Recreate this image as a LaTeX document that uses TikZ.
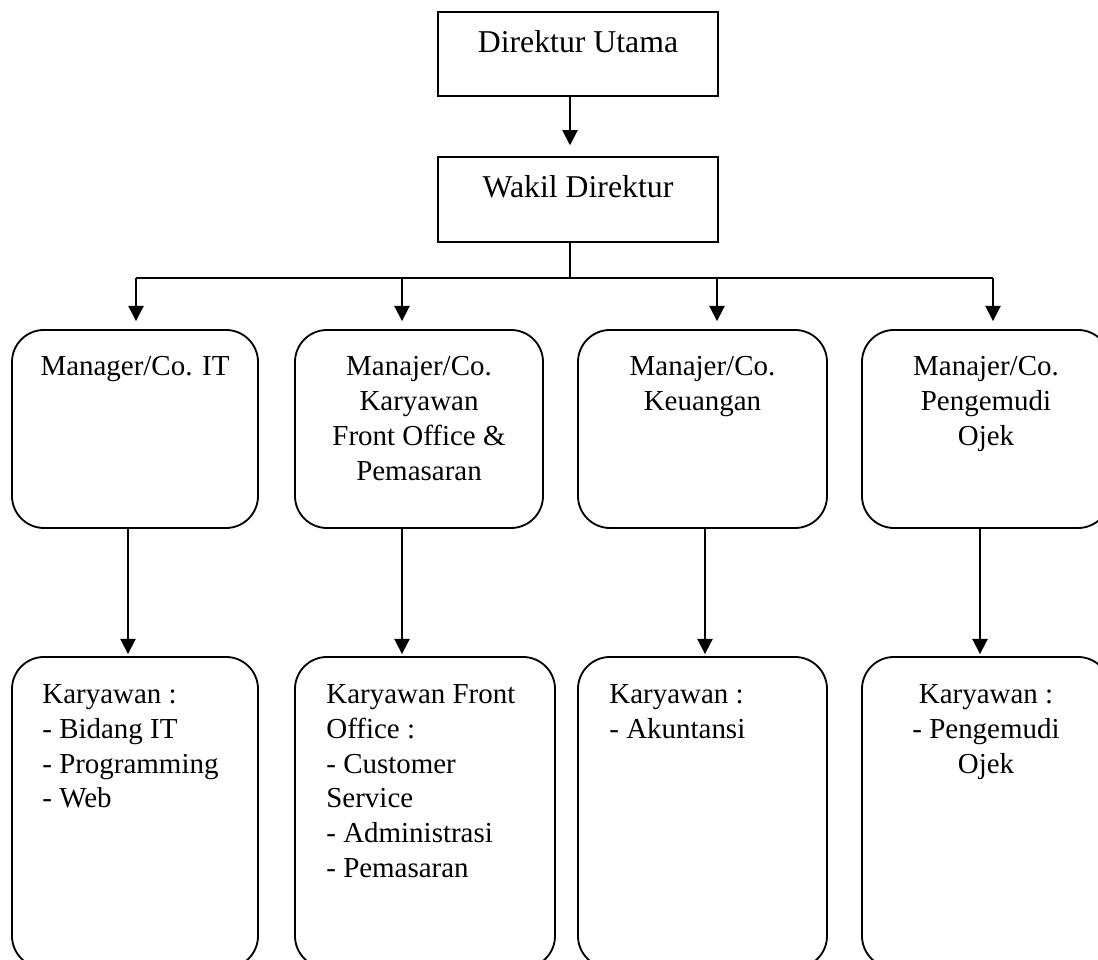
\documentclass[tikz,border=0pt]{standalone}
\usepackage{fontspec}
\setmainfont{Liberation Serif}
\usepackage{tikz}
\usetikzlibrary{arrows.meta}
\newcommand{\orgfont}{\fontsize{20.6pt}{24.8pt}\selectfont}
\newcommand{\topfont}{\fontsize{22.6pt}{27pt}\selectfont}

\begin{document}
\begin{tikzpicture}[
  sqbox/.style={draw, line width=1.3pt, minimum width=7cm, inner sep=0cm},
  rbox/.style={draw, line width=1.3pt, rounded corners=0.8cm, inner sep=0cm},
  lbl/.style={inner sep=0cm, font=\orgfont},
  ln/.style={line width=1.3pt},
  arr/.style={line width=1.3pt, -{Triangle[length=0.38cm,width=0.38cm]}}]

\useasboundingbox (0,0) rectangle (27.45,24);

% top two boxes
\draw (14.45, 22.65) node[sqbox, minimum height=2.1cm] (dirut) {};
\draw ([yshift=-1.025cm]dirut.north) node[lbl, font=\topfont, anchor=base] {Direktur Utama};
\draw (14.45, 19.0125) node[sqbox, minimum height=2.125cm] (wadir) {};
\draw ([yshift=-1.025cm]wadir.north) node[lbl, font=\topfont, anchor=base] {Wakil Direktur};

% managers
\draw (3.375, 13.275) node[rbox, minimum width=6.15cm, minimum height=4.95cm] (m1) {};
\draw (10.475, 13.275) node[rbox, minimum width=6.2cm, minimum height=4.95cm] (m2) {};
\draw (17.5625, 13.275) node[rbox, minimum width=6.225cm, minimum height=4.95cm] (m3) {};
\draw (24.65, 13.275) node[rbox, minimum width=6.2cm, minimum height=4.95cm] (m4) {};
\draw ([yshift=-0.675cm]m1.north) node[lbl, anchor=north, align=center] {Manager/Co. IT};
\draw ([yshift=-0.675cm]m2.north) node[lbl, anchor=north, align=center]
  {Manajer/Co.\\Karyawan\\Front Office \&\\Pemasaran};
\draw ([yshift=-0.675cm]m3.north) node[lbl, anchor=north, align=center] {Manajer/Co.\\Keuangan};
\draw ([yshift=-0.675cm]m4.north) node[lbl, anchor=north, align=center]
  {Manajer/Co.\\Pengemudi\\Ojek};

% staff
\draw (3.375, 3.6875) node[rbox, minimum width=6.15cm, minimum height=7.775cm] (k1) {};
\draw (10.625, 3.6875) node[rbox, minimum width=6.5cm, minimum height=7.775cm] (k2) {};
\draw (17.5625, 3.6875) node[rbox, minimum width=6.225cm, minimum height=7.775cm] (k3) {};
\draw (24.65, 3.6875) node[rbox, minimum width=6.2cm, minimum height=7.775cm] (k4) {};
\draw ([xshift=0.775cm, yshift=-0.7cm]k1.north west) node[lbl, anchor=north west, align=left]
  {Karyawan :\\- Bidang IT\\- Programming\\- Web};
\draw ([xshift=0.8cm, yshift=-0.7cm]k2.north west) node[lbl, anchor=north west, align=left]
  {Karyawan Front\\Office :\\- Customer\\Service\\- Administrasi\\- Pemasaran};
\draw ([xshift=0.8cm, yshift=-0.7cm]k3.north west) node[lbl, anchor=north west, align=left]
  {Karyawan :\\- Akuntansi};
\draw ([yshift=-0.7cm]k4.north) node[lbl, anchor=north, align=center]
  {Karyawan :\\- Pengemudi\\Ojek};

% connectors
\coordinate (busL) at (3.4, 17.05);
\coordinate (busR) at (24.825, 17.05);
\draw[arr, shorten >=0.27cm] ([xshift=-0.2cm]dirut.south) -- ([xshift=-0.2cm]wadir.north);
\draw[ln] ([xshift=-0.2cm]wadir.south) -- ([xshift=-0.2cm]wadir.south |- busL);
\draw[ln] (busL) -- (busR);
\draw[arr, shorten >=0.2cm] (busL) -- (busL |- m1.north);
\draw[arr, shorten >=0.2cm] ([xshift=-0.425cm]m2.north |- busL) -- ([xshift=-0.425cm]m2.north);
\draw[arr, shorten >=0.2cm] ([xshift=0.3625cm]m3.north |- busL) -- ([xshift=0.3625cm]m3.north);
\draw[arr, shorten >=0.2cm] (busR) -- (busR |- m4.north);
\draw[arr, shorten >=0.05cm] ([xshift=-0.175cm]m1.south) -- ([xshift=-0.175cm]m1.south |- k1.north);
\draw[arr, shorten >=0.05cm] ([xshift=-0.425cm]m2.south) -- ([xshift=-0.425cm]m2.south |- k2.north);
\draw[arr, shorten >=0.05cm] ([xshift=0.0625cm]m3.south) -- ([xshift=0.0625cm]m3.south |- k3.north);
\draw[arr, shorten >=0.05cm] ([xshift=-0.15cm]m4.south) -- ([xshift=-0.15cm]m4.south |- k4.north);
\end{tikzpicture}
\end{document}
